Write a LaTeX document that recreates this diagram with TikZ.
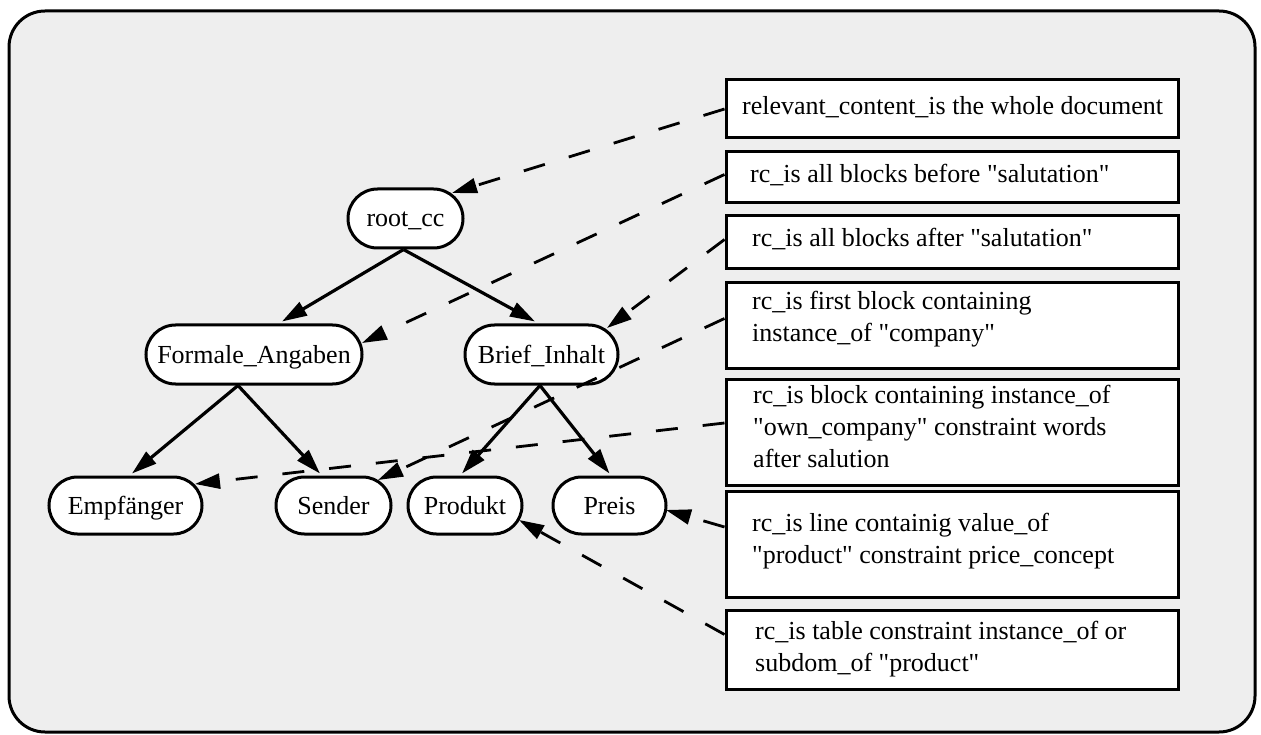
\documentclass[tikz,border=0pt]{standalone}
\usepackage{fontspec}
\setmainfont{Liberation Serif}[Ligatures=TeXOff]
\usetikzlibrary{arrows.meta,shapes.misc,calc}
\definecolor{bg}{HTML}{EEEEEE}
\tikzset{
  oval/.style={rounded rectangle, draw, line width=3pt, fill=white, text height=17pt, text depth=0pt, inner sep=0pt},
  infobox/.style={rectangle, draw, line width=3pt, fill=white, minimum width=452pt, inner sep=0pt},
  txt/.style={inner sep=0pt},
  treeedge/.style={line width=3.2pt, -{Triangle[length=25pt,width=15pt]}},
  noteedge/.style={line width=2.8pt, dash pattern=on 22pt off 25pt, -{Triangle[length=25pt,width=15pt]}}
}
\newcommand{\boxlines}[1]{\begin{tabular}[t]{@{}l@{}}#1\end{tabular}}
\begin{document}
\begin{tikzpicture}[x=1pt,y=-1pt,font=\fontsize{26pt}{32pt}\selectfont]
\useasboundingbox (0,0) rectangle (1261,735);
\draw[line width=3pt, fill=bg, rounded corners=36pt] (9,11) rectangle (1255,732);

% tree nodes
\node[oval, minimum width=115pt, minimum height=59pt] (root) at (405.5,218.5) {root\_cc};
\node[oval, minimum width=216pt, minimum height=59pt] (form) at (254,354.5) {Formale\_Angaben};
\node[oval, minimum width=153pt, minimum height=59pt] (brief) at (541.5,354.5) {Brief\_Inhalt};
\node[oval, minimum width=153pt, minimum height=57pt] (empf) at (125.5,505.5) {Empfänger};
\node[oval, minimum width=115pt, minimum height=57pt] (send) at (333.5,505.5) {Sender};
\node[oval, minimum width=114pt, minimum height=57pt] (prod) at (465,505.5) {Produkt};
\node[oval, minimum width=113pt, minimum height=57pt] (preis) at (609.5,505.5) {Preis};

% info boxes
\node[infobox, minimum height=58pt] (b1) at (952,109) {};
\node[infobox, minimum height=51pt] (b2) at (952,177.5) {};
\node[infobox, minimum height=53pt] (b3) at (952,242.5) {};
\node[infobox, minimum height=85pt] (b4) at (952,325.5) {};
\node[infobox, minimum height=106pt] (b5) at (952,432) {};
\node[infobox, minimum height=106pt] (b6) at (952,544) {};
\node[infobox, minimum height=79pt] (b7) at (952,649.5) {};

\node[txt, anchor=base west] (t1) at (742,115) {relevant\_content\_is the whole document};
\node[txt, anchor=base west] (t2) at (750,183) {rc\_is all blocks before "salutation"};
\node[txt, anchor=base west] (t3) at (752,247) {rc\_is all blocks after "salutation"};
\node[txt, anchor=base west] (t4) at (752,310) {\boxlines{rc\_is first block containing\\instance\_of "company"}};
\node[txt, anchor=base west] (t5) at (753,403) {\boxlines{rc\_is block containing instance\_of\\"own\_company" constraint words\\after salution}};
\node[txt, anchor=base west] (t6) at (752,531) {\boxlines{rc\_is line containig value\_of\\"product" constraint price\_concept}};
\node[txt, anchor=base west] (t7) at (755,639) {\boxlines{rc\_is table constraint instance\_of or\\subdom\_of "product"}};

% tree edges
\draw[treeedge] ($(root.south)+(-2,0)$) -- ($(form.north)+(28,-2)$);
\draw[treeedge] ($(root.south)+(-2,0)$) -- ($(brief.north)+(-6.5,-2)$);
\draw[treeedge] ($(form.south)+(-16,0)$) -- ($(empf.north)+(6.5,-2)$);
\draw[treeedge] ($(form.south)+(-16,0)$) -- ($(send.north)+(-13.5,-2)$);
\draw[treeedge] ($(brief.south)+(-1.5,0)$) -- ($(prod.north)+(-3,-2)$);
\draw[treeedge] ($(brief.south)+(-1.5,0)$) -- ($(preis.north)+(0,-2)$);

% annotation edges
\draw[noteedge] (b1.west) -- ($(root.center)+(46.5,-25.5)$);
\draw[noteedge] ($(b2.west)+(0,-3)$) -- ($(form.center)+(108,-11.5)$);
\draw[noteedge] ($(b3.west)+(0,-3)$) -- ($(brief.center)+(65.5,-26.5)$);
\draw[noteedge] ($(b4.west)+(0,-7)$) -- ($(send.center)+(44.5,-25.5)$);
\draw[noteedge] ($(b5.west)+(0,-9)$) -- ($(empf.center)+(69.5,-21.5)$);
\draw[noteedge] ($(b6.west)+(0,-17)$) -- ($(preis.center)+(56.5,4.5)$);
\draw[noteedge] ($(b7.west)+(0,-15)$) -- ($(prod.center)+(54,14.5)$);
\end{tikzpicture}
\end{document}
